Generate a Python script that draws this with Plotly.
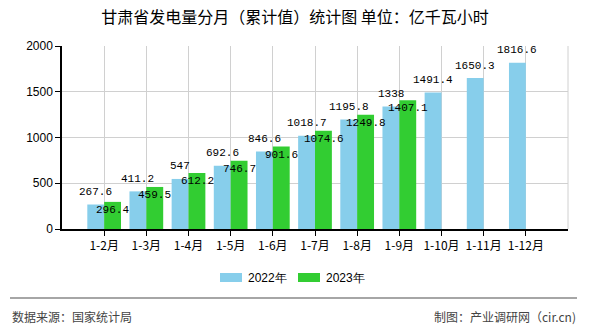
import plotly.graph_objects as go

categories = ["1-2月", "1-3月", "1-4月", "1-5月", "1-6月", "1-7月", "1-8月", "1-9月", "1-10月", "1-11月", "1-12月"]
values_2022 = [267.6, 411.2, 547, 692.6, 846.6, 1018.7, 1195.8, 1338, 1491.4, 1650.3, 1816.6]
values_2023 = [296.4, 459.5, 612.2, 746.7, 901.6, 1074.6, 1249.8, 1407.1, None, None, None]
label_2022 = ["267.6", "411.2", "547", "692.6", "846.6", "1018.7", "1195.8", "1338", "1491.4", "1650.3", "1816.6"]
label_2023 = ["296.4", "459.5", "612.2", "746.7", "901.6", "1074.6", "1249.8", "1407.1", None, None, None]
series_names = ["2022年", "2023年"]
y_ticks = [0, 500, 1000, 1500, 2000]

BLUE = "#87CEEB"
GREEN = "#32CD32"
CJK = "Noto Sans CJK SC"
MONO = "Liberation Mono"

W, H = 590, 330
ML, MR, MT, MB = 62, 22, 46, 101
plot_h = H - MT - MB
plot_w = W - ML - MR


def py(p):
    return (H - MB - p) / plot_h


def px(p):
    return (p - ML) / plot_w


fig = go.Figure()
fig.add_trace(go.Bar(x=categories, y=values_2022, name=series_names[0],
                     marker=dict(color=BLUE, line=dict(width=0))))
fig.add_trace(go.Bar(x=categories, y=values_2023, name=series_names[1],
                     marker=dict(color=GREEN, line=dict(width=0))))

ann = []
for c, v, t in zip(categories, values_2022, label_2022):
    ann.append(dict(x=c, y=v, xref="x", yref="y", text=t, showarrow=False,
                    xshift=-8.5, yshift=12.5, yanchor="middle",
                    font=dict(family=MONO, size=11, color="#000")))
for c, v, t in zip(categories, values_2023, label_2023):
    if v is None:
        continue
    ann.append(dict(x=c, y=v, xref="x", yref="y", text=t, showarrow=False,
                    xshift=8.5, yshift=-8, yanchor="middle",
                    font=dict(family=MONO, size=11, color="#000")))

# footer
ann.append(dict(x=px(10), y=py(316), xref="paper", yref="paper", xanchor="left", yanchor="middle",
                text="数据来源：国家统计局", showarrow=False, font=dict(family=CJK, size=12, color="#444")))
ann.append(dict(x=px(578), y=py(316), xref="paper", yref="paper", xanchor="right", yanchor="middle",
                text="制图：产业调研网（cir.cn)", showarrow=False, font=dict(family=CJK, size=12, color="#444")))

shapes = [
    dict(type="line", xref="paper", yref="paper", x0=1, x1=1, y0=0, y1=1,
         line=dict(color="#d0d0d0", width=1)),
    dict(type="line", xref="paper", yref="paper", x0=px(10), x1=px(577), y0=py(298), y1=py(298),
         line=dict(color="#888", width=1.5)),
]

# custom legend
legend_items = [(series_names[0], BLUE, 220), (series_names[1], GREEN, 298)]
for name, col, x0 in legend_items:
    shapes.append(dict(type="rect", xref="paper", yref="paper",
                       x0=px(x0), x1=px(x0 + 22), y0=py(282), y1=py(273),
                       fillcolor=col, line=dict(width=0)))
    ann.append(dict(x=px(x0 + 26), y=py(277.5), xref="paper", yref="paper",
                    xanchor="left", yanchor="middle", text=name, showarrow=False,
                    font=dict(family="Liberation Sans", size=12, color="#000")))

fig.update_layout(
    width=W, height=H,
    margin=dict(l=ML, r=MR, t=MT, b=MB),
    paper_bgcolor="white", plot_bgcolor="white",
    barmode="group", bargap=0.2, bargroupgap=0,
    showlegend=False,
    title=dict(text="甘肃省发电量分月（累计值）统计图 单位：亿千瓦小时",
               x=0.5, xanchor="center", y=1 - 17 / H, yanchor="middle",
               font=dict(family=CJK, size=16, color="#000")),
    font=dict(family=CJK, size=12, color="#000"),
    xaxis=dict(range=[-1, 11], showgrid=True, gridcolor="#d0d0d0", gridwidth=1,
               showline=True, linecolor="#000", linewidth=1.5,
               ticks="outside", ticklen=5, tickcolor="#000",
               tickfont=dict(family=CJK, size=12, color="#000"), fixedrange=True),
    yaxis=dict(range=[0, 2000], tickvals=y_ticks, showgrid=True, gridcolor="#d0d0d0",
               gridwidth=1, showline=True, linecolor="#000", linewidth=1.5,
               ticks="outside", ticklen=5, tickcolor="#000", zeroline=False,
               tickfont=dict(family="Liberation Sans", size=12, color="#000")),
    annotations=ann,
    shapes=shapes,
)

fig.write_html("out.html")
